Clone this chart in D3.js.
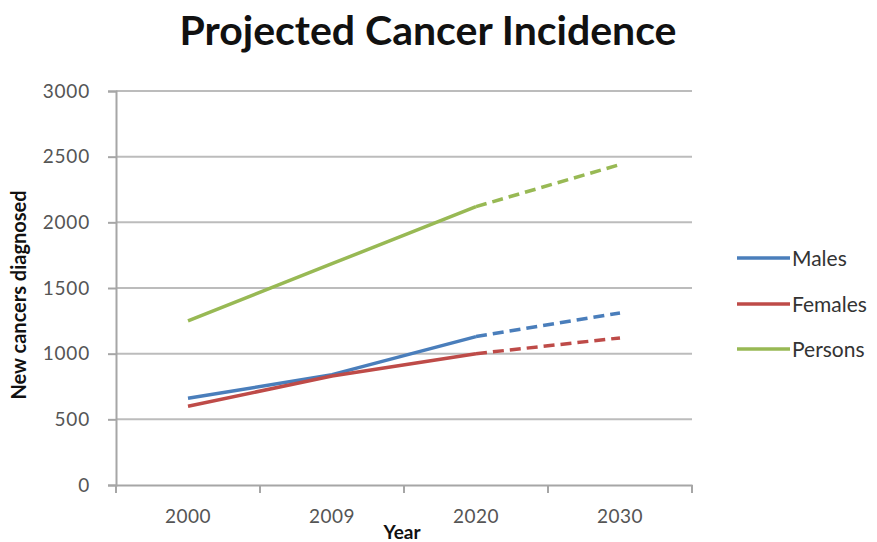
<!DOCTYPE html>
<html><head><meta charset="utf-8">
<script src="https://cdn.jsdelivr.net/npm/d3@7"></script>
<style>body{margin:0;background:#fff}svg{display:block}</style>
</head><body>
<svg id="c" width="877" height="542"></svg>
<script>
const years = ["2000","2009","2020","2030"];
const males   = [660, 840, 1130, 1310];
const females = [600, 830, 1000, 1120];
const persons = [1250, 1685, 2120, 2440];
const seriesNames = ["Males","Females","Persons"];
const colors = ["#4a7ebb","#be4b48","#98b954"];
const yTicks = [0,500,1000,1500,2000,2500,3000];
const projectedFrom = 2; // index where projection (dashed) begins

const series = [males, females, persons];
const svg = d3.select("#c");
const m = {l:116, r:692, t:91, b:485};
const x = d3.scaleBand().domain(years).range([m.l, m.r]);
const y = d3.scaleLinear().domain([0,3000]).range([m.b, m.t]);
const font = "Lato, 'Open Sans', sans-serif";

// gridlines
svg.append("g").selectAll("line").data(yTicks.filter(d=>d>0)).join("line")
  .attr("x1", m.l).attr("x2", m.r).attr("y1", d=>y(d)).attr("y2", d=>y(d))
  .attr("stroke","#bcbcbc").attr("stroke-width",2);

// y axis
const ya = svg.append("g").attr("transform",`translate(${m.l},0)`)
  .call(d3.axisLeft(y).tickValues(yTicks).tickFormat(d3.format("d")).tickSize(8).tickPadding(18));
ya.select(".domain").attr("stroke","#a6a6a6").attr("stroke-width",2);
ya.selectAll(".tick line").attr("stroke","#a6a6a6").attr("stroke-width",2);
ya.selectAll("text").attr("fill","#555").style("font-family",font).style("font-size","19px").style("letter-spacing","0.8px");

// x axis
const xa = svg.append("g").attr("transform",`translate(0,${m.b})`)
  .call(d3.axisBottom(x).tickSize(0).tickPadding(25));
xa.select(".domain").attr("stroke","#a6a6a6").attr("stroke-width",2);
xa.selectAll("text").attr("fill","#555").style("font-family",font).style("font-size","19px").style("letter-spacing","0.5px");
// category boundary ticks
const bounds = years.map(d=>x(d)).concat([m.r]);
xa.append("g").selectAll("line").data(bounds).join("line")
  .attr("x1",d=>d).attr("x2",d=>d).attr("y1",0).attr("y2",8)
  .attr("stroke","#a6a6a6").attr("stroke-width",2);

// lines
const cx = d => x(d) + x.bandwidth()/2;
const line = d3.line().x(d=>cx(d.yr)).y(d=>y(d.v));
series.forEach((s,i)=>{
  const pts = years.map((yr,j)=>({yr, v:s[j]}));
  svg.append("path").attr("d", line(pts.slice(0, projectedFrom+1)))
    .attr("fill","none").attr("stroke",colors[i]).attr("stroke-width",3.5)
    .attr("stroke-linejoin","round");
  svg.append("path").attr("d", line(pts.slice(projectedFrom)))
    .attr("fill","none").attr("stroke",colors[i]).attr("stroke-width",3.5)
    .attr("stroke-dasharray","11,6");
});

// legend
const ly = [258, 304, 349];
seriesNames.forEach((n,i)=>{
  svg.append("line").attr("x1",737).attr("x2",790).attr("y1",ly[i]).attr("y2",ly[i])
    .attr("stroke",colors[i]).attr("stroke-width",3.5);
  svg.append("text").attr("x",792).attr("y",ly[i]).attr("dy","0.36em")
    .attr("fill","#333").style("font-family",font).style("font-size","21px").text(n);
});

// title
svg.append("text").attr("x",428).attr("y",45).attr("text-anchor","middle")
  .style("font-family",font).style("font-weight","bold").style("font-size","41px")
  .attr("fill","#111").text("Projected Cancer Incidence");

// axis titles
svg.append("text").attr("transform","translate(26,295) rotate(-90)").attr("text-anchor","middle")
  .style("font-family",font).style("font-weight","bold").style("font-size","20px")
  .attr("fill","#111").text("New cancers diagnosed");
svg.append("text").attr("x",402).attr("y",539).attr("text-anchor","middle")
  .style("font-family",font).style("font-weight","bold").style("font-size","19px")
  .attr("fill","#111").text("Year");
</script>
</body></html>
